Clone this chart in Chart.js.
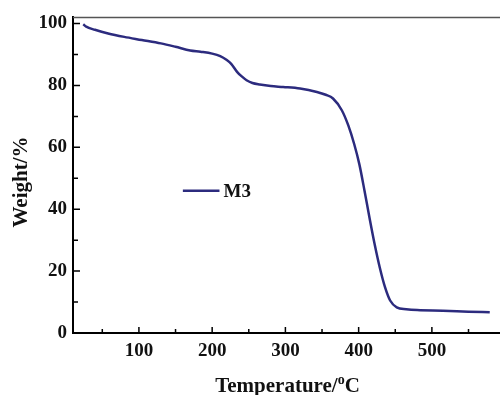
<!DOCTYPE html>
<html>
<head>
<meta charset="utf-8">
<script src="https://cdn.jsdelivr.net/npm/chart.js@4"></script>
<style>
html,body{margin:0;padding:0;background:#fff;overflow:hidden;}
#wrap{position:relative;width:500px;height:395px;}
</style>
</head>
<body>
<div id="wrap"><canvas id="c" width="500" height="395"></canvas></div>
<script>
// Data
const temperatures = [24, 28, 40, 58, 80, 104, 130, 150, 170, 184, 200, 211, 220, 226, 234, 240, 247, 255, 265, 280, 297, 320, 343, 355, 365, 377, 386, 394, 401, 408, 415, 422, 429, 436, 443, 452, 465, 480, 515, 550, 579];
const weights = [99.8, 99, 98, 96.8, 95.7, 94.7, 93.6, 92.5, 91.3, 90.9, 90.3, 89.5, 88.2, 87, 84.4, 83, 81.7, 80.8, 80.3, 79.8, 79.5, 79.0, 77.9, 77, 75.8, 72, 67, 61, 54.5, 46, 37, 28.5, 21, 14.8, 10.5, 8.3, 7.7, 7.4, 7.2, 6.9, 6.7];
const seriesLabel = "M3";
const xMajorTicks = [100, 200, 300, 400, 500];
const xMinorTicks = [50, 150, 250, 350, 450, 550];
const yMajorTicks = [0, 20, 40, 60, 80, 100];
const yMinorTicks = [10, 30, 50, 70, 90];
const xTitle = ["Temperature/", "o", "C"];
const yTitle = "Weight/%";

const FONT = '"Liberation Serif", "Times New Roman", serif';
const lineColor = '#2c2b7e';

const points = temperatures.map((t, i) => ({x: t, y: weights[i]}));

const decor = {
  id: 'decor',
  afterDraw(chart) {
    const ctx = chart.ctx;
    const xs = chart.scales.x, ys = chart.scales.y;
    const a = chart.chartArea;
    ctx.save();
    // top frame line
    ctx.strokeStyle = '#555';
    ctx.lineWidth = 1.5;
    ctx.beginPath();
    ctx.moveTo(a.left, a.top);
    ctx.lineTo(a.right, a.top);
    ctx.stroke();
    // inward ticks
    ctx.strokeStyle = '#000';
    ctx.lineWidth = 1.5;
    ctx.beginPath();
    xMajorTicks.forEach(v => { const px = xs.getPixelForValue(v); ctx.moveTo(px, a.bottom); ctx.lineTo(px, a.bottom - 6); });
    xMinorTicks.forEach(v => { const px = xs.getPixelForValue(v); ctx.moveTo(px, a.bottom); ctx.lineTo(px, a.bottom - 4); });
    yMajorTicks.forEach(v => { const py = ys.getPixelForValue(v); ctx.moveTo(a.left, py); ctx.lineTo(a.left + 7, py); });
    yMinorTicks.forEach(v => { const py = ys.getPixelForValue(v); ctx.moveTo(a.left, py); ctx.lineTo(a.left + 5, py); });
    ctx.stroke();
    // legend
    const lx1 = xs.getPixelForValue(160), lx2 = xs.getPixelForValue(210);
    const ly = ys.getPixelForValue(46);
    ctx.strokeStyle = lineColor;
    ctx.lineWidth = 2.5;
    ctx.beginPath();
    ctx.moveTo(lx1, ly); ctx.lineTo(lx2, ly); ctx.stroke();
    ctx.fillStyle = '#111';
    ctx.font = 'bold 19px ' + FONT;
    ctx.textBaseline = 'middle';
    ctx.textAlign = 'left';
    ctx.fillText(chart.data.datasets[0].label, lx2 + 4, ly + 1);
    // x title with superscript
    ctx.textBaseline = 'alphabetic';
    const bigF = 'bold 21px ' + FONT, smallF = 'bold 14px ' + FONT;
    ctx.font = bigF; const w1 = ctx.measureText(xTitle[0]).width; const w3 = ctx.measureText(xTitle[2]).width;
    ctx.font = smallF; const w2 = ctx.measureText(xTitle[1]).width;
    const total = w1 + w2 + w3;
    let sx = (a.left + a.right) / 2 + 1 - total / 2;
    const by = 392;
    ctx.font = bigF; ctx.fillText(xTitle[0], sx, by); sx += w1;
    ctx.font = smallF; ctx.fillText(xTitle[1], sx, by - 8); sx += w2;
    ctx.font = bigF; ctx.fillText(xTitle[2], sx, by);
    // y title
    ctx.translate(27, 182);
    ctx.rotate(-Math.PI / 2);
    ctx.textAlign = 'center';
    ctx.font = 'bold 21px ' + FONT;
    ctx.fillText(yTitle, 0, 0);
    ctx.restore();
  }
};

new Chart(document.getElementById('c'), {
  type: 'line',
  data: {
    datasets: [{
      label: seriesLabel,
      data: points,
      borderColor: lineColor,
      borderWidth: 2.5,
      pointRadius: 0,
      cubicInterpolationMode: 'monotone',
      fill: false
    }]
  },
  options: {
    responsive: false,
    animation: false,
    events: [],
    layout: {padding: {top: 17, left: 0, right: 0, bottom: 0}},
    plugins: {legend: {display: false}, tooltip: {enabled: false}, title: {display: false}},
    scales: {
      x: {
        type: 'linear', min: 10, max: 593,
        grid: {display: false, drawTicks: false},
        border: {display: true, color: '#000', width: 2},
        afterBuildTicks: s => { s.ticks = xMajorTicks.map(v => ({value: v})); },
        afterFit: s => { s.height = 62; },
        ticks: {color: '#111', font: {family: FONT, size: 19, weight: 'bold'}, padding: 7, maxRotation: 0}
      },
      y: {
        type: 'linear', min: 0, max: 102,
        grid: {display: false, drawTicks: false},
        border: {display: true, color: '#000', width: 2},
        afterBuildTicks: s => { s.ticks = yMajorTicks.map(v => ({value: v})); },
        afterFit: s => { s.width = 73; },
        ticks: {color: '#111', font: {family: FONT, size: 19, weight: 'bold'}, padding: 6}
      }
    }
  },
  plugins: [decor]
});
</script>
</body>
</html>
